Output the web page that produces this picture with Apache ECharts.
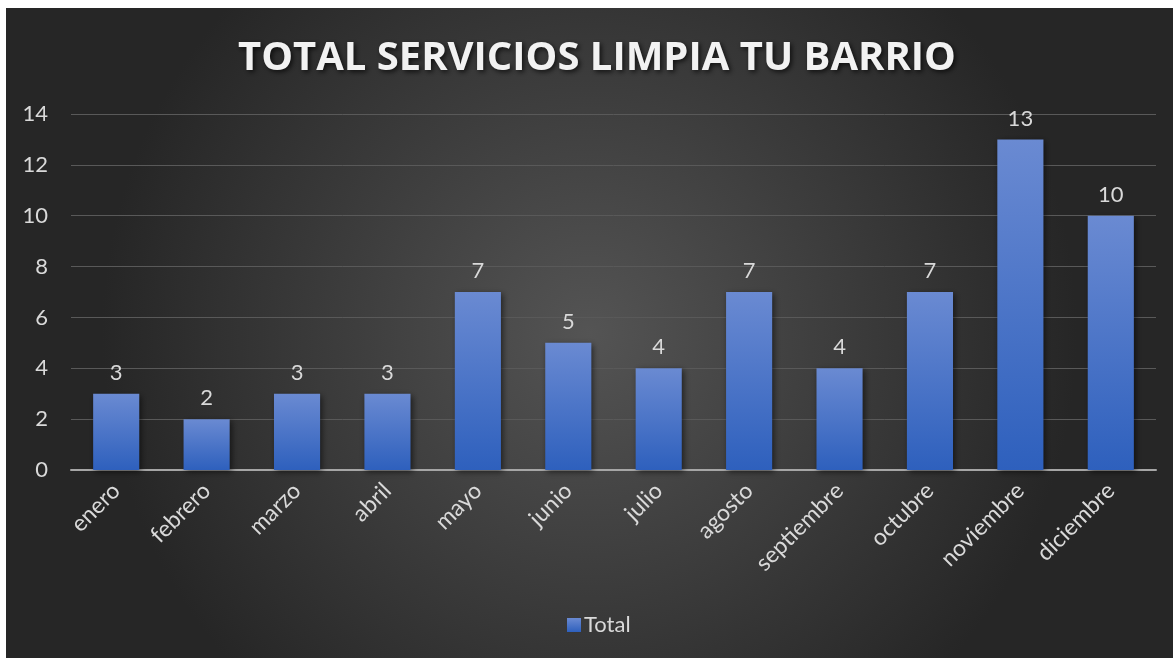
<!DOCTYPE html>
<html>
<head>
<meta charset="utf-8">
<script src="https://cdn.jsdelivr.net/npm/echarts@6/dist/echarts.min.js"></script>
<style>
  html, body { margin: 0; padding: 0; background: #fff; }
  #chart { width: 1173px; height: 658px; }
</style>
</head>
<body>
<div id="chart"></div>
<script>
// datos del grafico
var meses = ['enero', 'febrero', 'marzo', 'abril', 'mayo', 'junio', 'julio',
  'agosto', 'septiembre', 'octubre', 'noviembre', 'diciembre'];
var totales = [3, 2, 3, 3, 7, 5, 4, 7, 4, 7, 13, 10];
var serieNombre = 'Total';
var titulo = 'TOTAL SERVICIOS LIMPIA TU BARRIO';

var txtColor = '#d9d9d9';
var fuente = 'Lato, "Open Sans", sans-serif';

var chart = echarts.init(document.getElementById('chart'));

var option = {
  backgroundColor: '#fff',
  animation: false,
  graphic: [{
    type: 'rect',
    z: -10,
    silent: true,
    shape: { x: 6, y: 8, width: 1167, height: 650 },
    style: {
      fill: {
        type: 'radial',
        x: 0.5, y: 0.5, r: 0.75,
        colorStops: [
          { offset: 0, color: '#545454' },
          { offset: 1, color: '#262626' }
        ]
      }
    }
  }],
  title: {
    text: titulo,
    left: 233,
    top: 34,
    textStyle: {
      color: '#f2f2f2',
      fontFamily: '"Open Sans", sans-serif',
      fontWeight: 'bold',
      fontSize: 40,
      textShadowColor: 'rgba(0,0,0,0.7)',
      textShadowBlur: 5,
      textShadowOffsetX: 2,
      textShadowOffsetY: 2
    }
  },
  legend: {
    bottom: 17,
    left: 562,
    itemWidth: 14,
    itemHeight: 14,
    icon: 'rect',
    itemGap: 6,
    data: [serieNombre],
    textStyle: { color: txtColor, fontSize: 22, fontFamily: fuente, padding: [0, 0, 0, -2] }
  },
  grid: {
    left: 71,
    right: 17,
    top: 114,
    bottom: 188,
    containLabel: false,
    outerBoundsMode: 'none'
  },
  xAxis: {
    type: 'category',
    data: meses,
    axisTick: { show: false },
    axisLine: { show: true, lineStyle: { color: '#a6a6a6', width: 2 } },
    axisLabel: {
      rotate: 45,
      interval: 0,
      margin: 17,
      color: txtColor,
      fontSize: 23,
      fontFamily: fuente
    }
  },
  yAxis: {
    type: 'value',
    min: 0,
    max: 14,
    interval: 2,
    axisLine: { show: false },
    axisTick: { show: false },
    splitLine: { lineStyle: { color: '#595959', width: 1 } },
    axisLabel: {
      color: txtColor,
      fontSize: 22,
      fontFamily: fuente,
      margin: 23
    }
  },
  series: [{
    name: serieNombre,
    type: 'bar',
    data: totales,
    barWidth: '51%',
    itemStyle: {
      color: {
        type: 'linear', x: 0, y: 0, x2: 0, y2: 1,
        colorStops: [
          { offset: 0, color: '#6a8ad2' },
          { offset: 1, color: '#2e60bd' }
        ]
      },
      shadowColor: 'rgba(0,0,0,0.55)',
      shadowBlur: 6,
      shadowOffsetX: 2,
      shadowOffsetY: 2
    },
    label: {
      show: true,
      position: 'top',
      distance: 10,
      color: txtColor,
      fontSize: 22,
      fontFamily: fuente
    }
  }]
};

chart.setOption(option);
</script>
</body>
</html>
